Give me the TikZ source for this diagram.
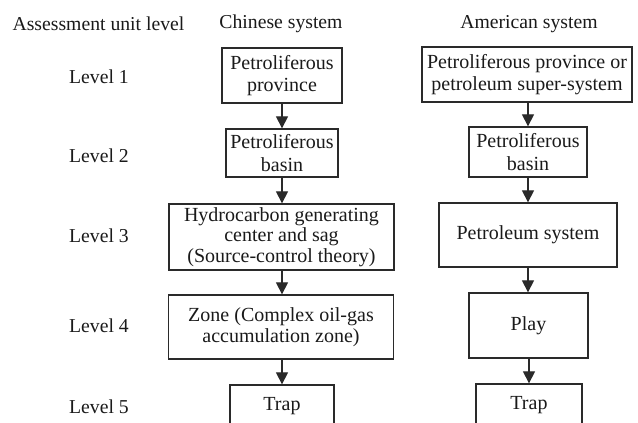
\documentclass[tikz,border=0pt]{standalone}
\usepackage{fontspec}
\setmainfont{Liberation Serif}
\usetikzlibrary{arrows.meta}
\definecolor{ink}{HTML}{1A1A1A}
\definecolor{edge}{HTML}{2A2A2A}
\tikzset{
  box/.style={draw=edge, line width=1.3pt, align=center, inner sep=0pt, text=ink,
    font=\fontsize{20}{22.5}\selectfont},
  lbl/.style={text=ink, inner sep=0pt, font=\fontsize{19.7}{22}\selectfont},
  arr/.style={draw=edge, line width=1.2pt, -{Triangle[length=12pt,width=12pt]}}
}
\begin{document}
\begin{tikzpicture}[x=1pt,y=-1pt]
\useasboundingbox (0,0) rectangle (638,423);
\clip (0,0) rectangle (638,423);
\fill[white] (0,0) rectangle (638,423);
% headers
\node[lbl] (h0) at (98.5,24) {Assessment unit level};
\node[lbl] (h1) at (281,24) {Chinese system};
\node[lbl] (h2) at (529,24) {American system};
% level labels
\node[lbl] (l1) at (99,77) {Level 1};
\node[lbl] (l2) at (99,156) {Level 2};
\node[lbl] (l3) at (99,236) {Level 3};
\node[lbl] (l4) at (99,326) {Level 4};
\node[lbl] (l5) at (99,407) {Level 5};
% Chinese column
\node[box, minimum width=120pt, minimum height=55pt] (c1) at (282,75.5) {Petroliferous\\province};
\node[box, minimum width=112pt, minimum height=48pt] (c2) at (282,153) {Petroliferous\\basin};
\node[box, minimum width=225pt, minimum height=66pt, font=\fontsize{20}{20.5}\selectfont] (c3) at (281.5,237) {Hydrocarbon generating\\center and sag\\(Source-control theory)};
\node[box, minimum width=225pt, minimum height=64pt, font=\fontsize{20}{21}\selectfont] (c4) at (281,327) {Zone (Complex oil-gas\\accumulation zone)};
\node[box, minimum width=104pt, minimum height=42pt] (c5) at (282,406) {Trap};
% American column
\node[box, minimum width=210pt, minimum height=55pt] (a1) at (527,74.5) {Petroliferous province or\\petroleum super-system};
\node[box, minimum width=118pt, minimum height=50pt] (a2) at (528,152) {Petroliferous\\basin};
\node[box, minimum width=178pt, minimum height=64pt] (a3) at (528,235) {Petroleum system};
\node[box, minimum width=119pt, minimum height=65pt] (a4) at (528.5,325.5) {Play};
\node[box, minimum width=106pt, minimum height=42pt] (a5) at (529,405) {Trap};
% arrows
\draw[arr] (c1.south) -- (c2.north);
\draw[arr] (c2.south) -- (c3.north -| c2.south);
\draw[arr] (c3.south -| c2.south) -- (c4.north -| c2.south);
\draw[arr] (c4.south -| c5.north) -- (c5.north);
\draw[arr] (a1.south -| a2.north) -- (a2.north);
\draw[arr] (a2.south) -- (a3.north -| a2.south);
\draw[arr] (a3.south -| a2.south) -- (a4.north -| a2.south);
\draw[arr] (a4.south -| a5.north) -- (a5.north);
\end{tikzpicture}
\end{document}
